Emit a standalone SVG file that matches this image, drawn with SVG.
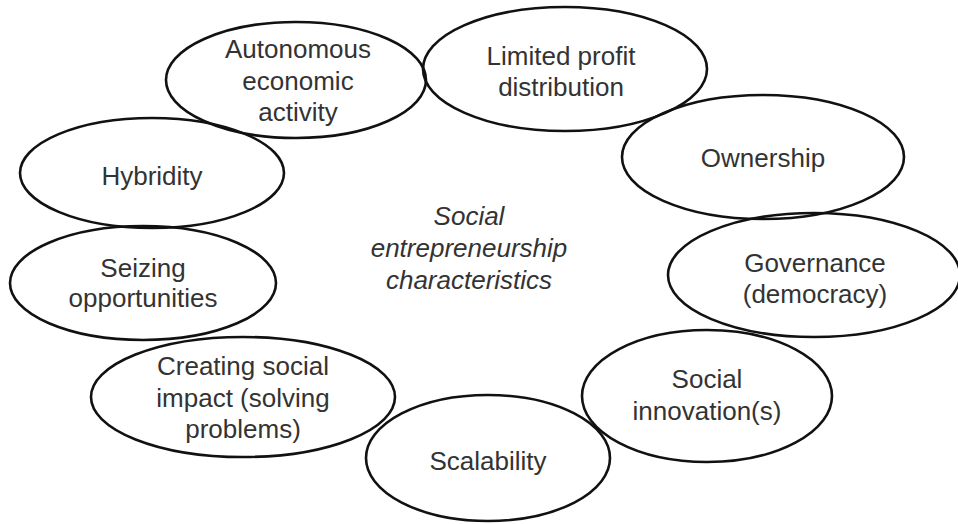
<svg xmlns="http://www.w3.org/2000/svg" width="958" height="524" viewBox="0 0 958 524">
<style>
.e{fill:none;stroke:#111;stroke-width:2.6}
.t{font-family:"Liberation Sans",Arial,sans-serif;font-size:26px;fill:#333;text-anchor:middle}
.c{font-style:italic}
</style>
<rect width="958" height="524" fill="#fff"/>
<g id="connectors"></g>
<g id="autonomous"><ellipse class="e" cx="296" cy="80" rx="130" ry="58"/><text class="t" x="298"><tspan x="298" y="58">Autonomous</tspan><tspan x="298" y="90">economic</tspan><tspan x="298" y="121">activity</tspan></text></g>
<g id="limited"><ellipse class="e" cx="565" cy="69" rx="142" ry="62"/><text class="t"><tspan x="561" y="65">Limited profit</tspan><tspan x="561" y="96">distribution</tspan></text></g>
<g id="ownership"><ellipse class="e" cx="763" cy="157" rx="141" ry="62"/><text class="t" x="763" y="167">Ownership</text></g>
<g id="governance"><ellipse class="e" cx="814" cy="275" rx="146" ry="62"/><text class="t"><tspan x="815" y="272">Governance</tspan><tspan x="815" y="303">(democracy)</tspan></text></g>
<g id="innovation"><ellipse class="e" cx="707" cy="396" rx="125" ry="66"/><text class="t"><tspan x="707" y="388">Social</tspan><tspan x="707" y="420">innovation(s)</tspan></text></g>
<g id="scalability"><ellipse class="e" cx="488" cy="458" rx="122" ry="63"/><text class="t" x="488" y="470">Scalability</text></g>
<g id="impact"><ellipse class="e" cx="243" cy="397" rx="152" ry="60"/><text class="t"><tspan x="243" y="375">Creating social</tspan><tspan x="243" y="407">impact (solving</tspan><tspan x="243" y="438">problems)</tspan></text></g>
<g id="seizing"><ellipse class="e" cx="143" cy="283" rx="133" ry="57"/><text class="t"><tspan x="143" y="277">Seizing</tspan><tspan x="143" y="307">opportunities</tspan></text></g>
<g id="hybridity"><ellipse class="e" cx="152" cy="173" rx="132" ry="55"/><text class="t" x="152" y="185">Hybridity</text></g>
<g id="center"><text class="t c"><tspan x="469" y="225">Social</tspan><tspan x="469" y="257">entrepreneurship</tspan><tspan x="469" y="289">characteristics</tspan></text></g>
</svg>
